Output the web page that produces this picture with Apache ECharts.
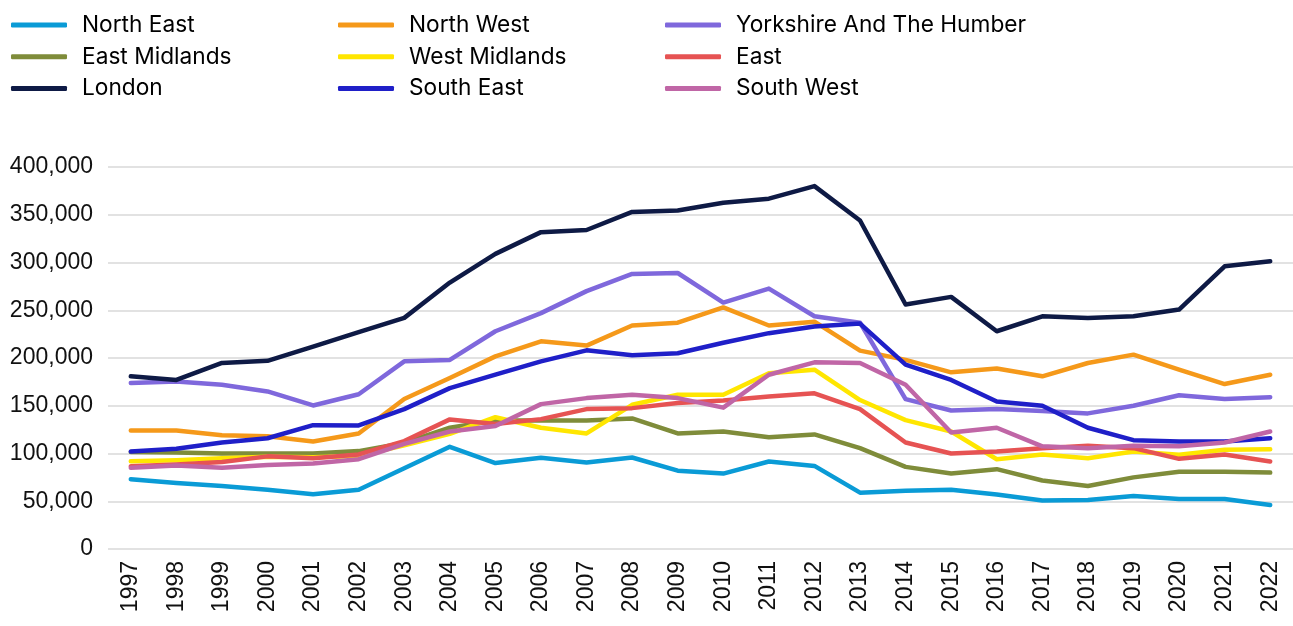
<!DOCTYPE html>
<html>
<head>
<meta charset="utf-8">
<script src="https://cdn.jsdelivr.net/npm/echarts@6/dist/echarts.min.js"></script>
<style>
html,body{margin:0;padding:0;background:#fff;}
#chart{width:1293px;height:626px;}
</style>
</head>
<body>
<div id="chart"></div>
<script>
const years = ['1997','1998','1999','2000','2001','2002','2003','2004','2005','2006','2007','2008','2009','2010','2011','2012','2013','2014','2015','2016','2017','2018','2019','2020','2021','2022'];

const northEast     = [73000,69000,66000,62000,57300,62000,84600,107000,90000,95500,90600,95800,82000,79000,91600,87000,59000,61000,62000,57000,50700,51400,55600,52400,52400,46000];
const northWest     = [124000,124000,119000,118000,112600,121000,157000,179000,201700,217500,213000,234000,237000,253000,234000,238000,207700,198000,185000,189000,180800,194800,203500,187800,172700,182500];
const yorkshire     = [173800,175500,172000,165000,150300,162000,196500,198000,228000,247000,270000,288000,289000,258000,272700,243700,237000,157000,145000,146500,144500,142000,150000,161000,157000,159000];
const eastMidlands  = [101500,101000,100000,100000,100000,102500,111000,127000,134600,134600,134600,136700,121000,123000,117000,120000,105600,86000,79000,83600,71700,66000,75000,81000,81000,80000];
const westMidlands  = [92000,93000,95000,96500,96000,97500,108700,120600,138000,127000,121000,151000,161500,161500,184000,187800,156000,135000,123000,94000,99000,95000,102000,98600,104000,104500];
const east          = [86700,88500,91000,97000,95000,99000,113000,135700,131000,136000,146500,147500,152800,155600,159800,163000,146500,111500,100000,102000,105600,108000,105600,94400,99000,91600];
const london        = [180800,177000,194800,197000,212000,227000,242000,279000,309000,331800,334000,353000,354500,362600,366800,380000,344000,256000,264000,228000,243700,242000,243700,250700,296000,301400];
const southEast     = [102000,105000,111500,116000,129700,129400,146500,168500,182500,196500,208000,202800,205000,216000,226000,233000,236000,193000,177000,154500,150000,127000,114000,112600,112600,116000];
const southWest     = [85000,87500,85000,88000,89500,94000,110000,123000,128700,151700,158000,161500,158000,148000,182500,195500,194800,172000,122000,127000,107500,105500,108000,107500,111500,123000];

const seriesNames = ['North East','North West','Yorkshire And The Humber','East Midlands','West Midlands','East','London','South East','South West'];
const seriesData  = [northEast,northWest,yorkshire,eastMidlands,westMidlands,east,london,southEast,southWest];
const seriesColors = ['#0a9bd6','#f5991a','#7f68dc','#7f8c3a','#ffe600','#e65353','#0e1a45','#1f1fc8','#c066a6'];

const legendCols = [
  ['North East','East Midlands','London'],
  ['North West','West Midlands','South East'],
  ['Yorkshire And The Humber','East','South West']
];
const legendLefts = [11, 338, 665];

const chart = echarts.init(document.getElementById('chart'), null, {renderer:'canvas'});

const legends = legendCols.map((names, i) => ({
  data: names,
  orient: 'vertical',
  left: legendLefts[i],
  top: 13,
  padding: 0,
  itemWidth: 56,
  itemHeight: 5,
  itemGap: 7.7,
  icon: 'roundRect',
  selectedMode: false,
  textStyle: {
    fontFamily: 'Inter',
    fontSize: 22.7,
    color: '#000',
    lineHeight: 24,
    padding: [0, 0, 0, 10]
  }
}));

const option = {
  animation: false,
  backgroundColor: '#ffffff',
  legend: legends,
  grid: {left: 108, width: 1188, top: 167, bottom: 77, containLabel: false},
  xAxis: {
    type: 'category',
    data: years,
    boundaryGap: true,
    axisLine: {show: false},
    axisTick: {show: false},
    axisLabel: {
      rotate: 90,
      interval: 0,
      margin: 12,
      fontFamily: 'Liberation Sans',
      fontSize: 23,
      color: '#111'
    }
  },
  yAxis: {
    type: 'value',
    min: 0,
    max: 400000,
    interval: 50000,
    axisLine: {show: false},
    axisTick: {show: false},
    splitLine: {lineStyle: {color: '#d9d9d9', width: 1.5}},
    axisLabel: {
      margin: 15,
      fontFamily: 'Liberation Sans',
      fontSize: 23,
      color: '#111',
      formatter: v => v.toLocaleString('en-US')
    }
  },
  series: seriesNames.map((name, i) => ({
    name: name,
    type: 'line',
    data: seriesData[i],
    symbol: 'none',
    color: seriesColors[i],
    lineStyle: {width: 4.5, color: seriesColors[i], cap: 'round', join: 'round'}
  }))
};

chart.setOption(option);
</script>
</body>
</html>
